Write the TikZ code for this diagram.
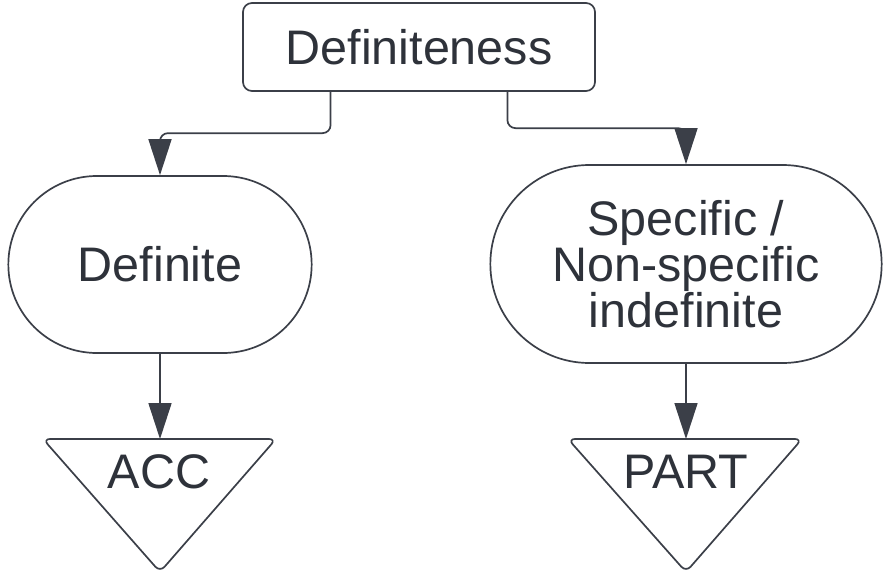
\documentclass[tikz,border=0pt]{standalone}
\usepackage{fontspec}
\setmainfont{Liberation Sans}
\usetikzlibrary{shapes.misc}
\usetikzlibrary{arrows.meta}
\usetikzlibrary{calc}
\definecolor{ink}{HTML}{2E323A}
\definecolor{edge}{HTML}{3B3F48}

\begin{document}
\begin{tikzpicture}[x=1pt,y=-1pt,
		every node/.style={text=ink,font=\fontsize{48.5}{44.5}\selectfont},
		box/.style={draw=edge,line width=1.7pt,rounded corners=9pt,minimum width=352pt,minimum height=88pt},
		pill/.style={draw=edge,line width=1.7pt,rounded rectangle,align=center},
		tri/.style={draw=edge,line width=1.7pt,rounded corners=7pt,line join=round},
		link/.style={draw=edge,line width=1.7pt,rounded corners=8pt,-{Triangle[width=23pt,length=36pt]}}]
		\useasboundingbox (0,0) rectangle (888,575);
		\node[box] (top) at (419,47) {Definiteness};
		\node[pill,minimum width=310pt,minimum height=177pt] (def) at (160,264.5) {Definite};
		\node[pill,minimum width=398pt,minimum height=198pt] (spec) at (686,264) {Specific /\\Non-specific\\indefinite};
		% triangles
		\coordinate (acctop) at (160,439);
		\coordinate (parttop) at (686,439);
		\draw[tri] (43,439) -- (276,439) -- (160,572) -- cycle;
		\draw[tri] (568,439) -- (802,439) -- (686,572) -- cycle;
		\node (acc) at (159,472) {ACC};
		\node (part) at (686,472) {PART};
		% connectors
		\draw[link] ($(top.south west)!0.25!(top.south east)$) |- ($(def.north)+(0,-42)$) -- (def.north);
		\draw[link] ($(top.south west)!0.75!(top.south east)$) |- ($(spec.north)+(0,-36)$) -- (spec.north);
		\draw[link] (def.south) -- (acctop);
		\draw[link] (spec.south) -- (parttop);
	\end{tikzpicture}
\end{document}
